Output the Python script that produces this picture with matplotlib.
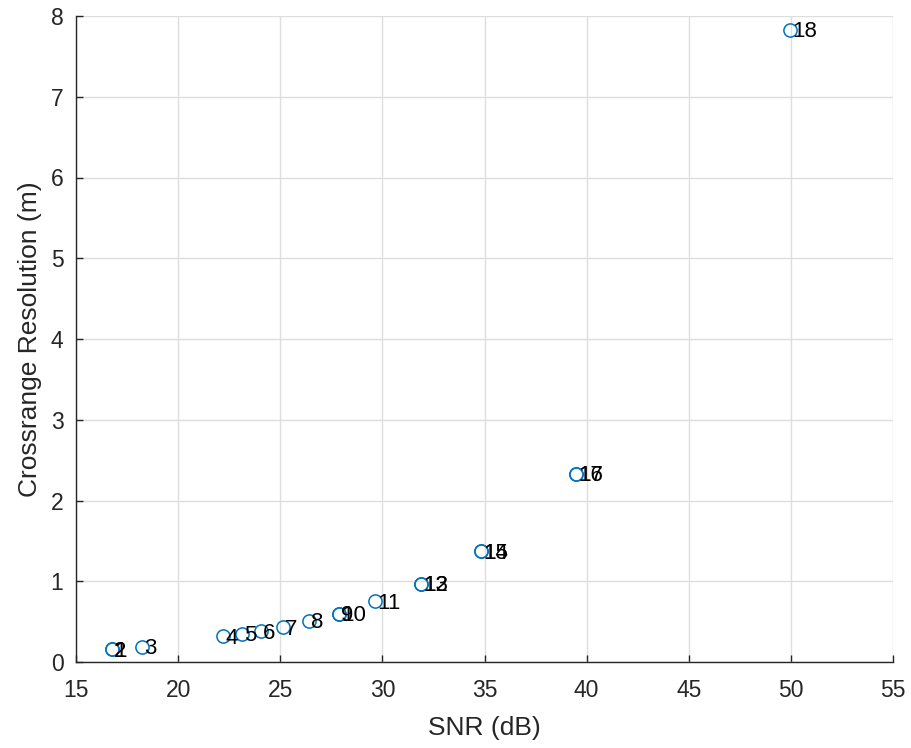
import matplotlib
matplotlib.use("Agg")
import matplotlib.pyplot as plt

# Crossrange resolution versus SNR for each numbered case
case_ids = list(range(1, 19))
snr_db = [16.76, 16.76, 18.22, 22.20, 23.12, 24.05, 25.13, 26.40, 27.87, 27.87,
          29.64, 31.88, 31.88, 34.83, 34.83, 39.48, 39.48, 49.97]
crossrange_m = [0.16, 0.16, 0.19, 0.32, 0.35, 0.38, 0.43, 0.51, 0.60, 0.60,
                0.75, 0.97, 0.97, 1.37, 1.37, 2.33, 2.33, 7.83]

x_ticks = [15, 20, 25, 30, 35, 40, 45, 50, 55]
y_ticks = [0, 1, 2, 3, 4, 5, 6, 7, 8]

plt.rcParams['font.family'] = ['Liberation Sans', 'DejaVu Sans']

fig = plt.figure(figsize=(9.12, 7.48), dpi=100)
ax = fig.add_axes([76 / 912, 1 - 662 / 748, (893 - 76) / 912, (662 - 16) / 748])

ink = '#262626'
ax.plot(snr_db, crossrange_m, linestyle='none', marker='o', markersize=9.5,
        markerfacecolor='none', markeredgecolor='#0072BD', markeredgewidth=1.1,
        zorder=3)

for cid, x, y in zip(case_ids, snr_db, crossrange_m):
    ax.annotate(str(cid), (x, y), xytext=(1.5, -1.5), textcoords='offset points',
                ha='left', va='center', fontsize=16, color='black', zorder=4)

ax.set_xlim(15, 55)
ax.set_ylim(0, 8)
ax.set_xticks(x_ticks)
ax.set_yticks(y_ticks)
ax.set_xticklabels([str(t) for t in x_ticks])
ax.set_yticklabels([str(t) for t in y_ticks])

ax.grid(True, color='#DEDEDE', linewidth=1.0)
ax.set_axisbelow(True)

for side in ('top', 'right'):
    ax.spines[side].set_visible(False)
for side in ('left', 'bottom'):
    ax.spines[side].set_color(ink)
    ax.spines[side].set_linewidth(1.0)

ax.tick_params(direction='in', length=5, width=1.0, color=ink,
               labelcolor=ink, labelsize=16.5)
ax.tick_params(axis='x', pad=12)
ax.tick_params(axis='y', pad=9)

ax.set_xlabel('SNR (dB)', fontsize=19, color=ink, labelpad=10)
ax.set_ylabel('Crossrange Resolution (m)', fontsize=19, color=ink, labelpad=6)

fig.savefig('out.png', dpi=100)
